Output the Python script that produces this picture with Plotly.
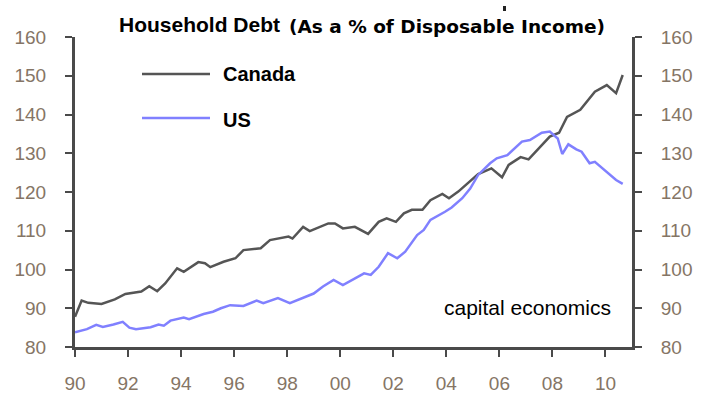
import plotly.graph_objects as go

# ---- data ----
canada_year = [1990.00, 1990.25, 1990.50, 1991.00, 1991.50, 1991.90, 1992.50, 1992.80, 1993.10, 1993.40,
               1993.85, 1994.10, 1994.65, 1994.90, 1995.10, 1995.60, 1996.05, 1996.35, 1997.00, 1997.35,
               1998.05, 1998.20, 1998.60, 1998.85, 1999.55, 1999.80, 2000.10, 2000.55, 2001.05, 2001.45,
               2001.75, 2002.10, 2002.40, 2002.70, 2003.10, 2003.40, 2003.85, 2004.10, 2004.45, 2004.90,
               2005.20, 2005.70, 2006.10, 2006.35, 2006.80, 2007.10, 2007.50, 2007.90, 2008.25, 2008.55,
               2009.05, 2009.60, 2010.05, 2010.40, 2010.65]
canada_debt = [87.8, 92.0, 91.4, 91.1, 92.3, 93.7, 94.3, 95.7, 94.4, 96.4,
               100.3, 99.4, 101.9, 101.6, 100.6, 102.0, 102.9, 105.0, 105.5, 107.6,
               108.5, 108.0, 111.0, 109.9, 111.9, 111.9, 110.6, 111.0, 109.2, 112.3,
               113.2, 112.3, 114.5, 115.4, 115.4, 117.9, 119.5, 118.4, 120.1, 122.7,
               124.6, 126.1, 123.8, 127.0, 129.0, 128.4, 131.3, 134.3, 135.3, 139.4,
               141.2, 145.9, 147.6, 145.5, 150.2]

us_year = [1990.00, 1990.45, 1990.80, 1991.05, 1991.45, 1991.80, 1992.05, 1992.30, 1992.85, 1993.15,
           1993.35, 1993.60, 1994.10, 1994.30, 1994.85, 1995.20, 1995.50, 1995.85, 1996.35, 1996.85,
           1997.10, 1997.65, 1998.10, 1998.60, 1999.00, 1999.35, 1999.75, 2000.10, 2000.55, 2000.90,
           2001.15, 2001.45, 2001.80, 2002.15, 2002.45, 2002.90, 2003.15, 2003.40, 2003.95, 2004.20,
           2004.60, 2004.90, 2005.20, 2005.65, 2005.90, 2006.30, 2006.85, 2007.15, 2007.60, 2007.90,
           2008.20, 2008.37, 2008.60, 2008.90, 2009.10, 2009.40, 2009.60, 2009.95, 2010.40, 2010.65]
us_debt = [83.8, 84.6, 85.7, 85.2, 85.8, 86.5, 85.0, 84.6, 85.1, 85.8,
           85.5, 86.8, 87.6, 87.2, 88.5, 89.1, 90.0, 90.8, 90.6, 92.0,
           91.3, 92.6, 91.3, 92.6, 93.8, 95.6, 97.3, 96.0, 97.8, 99.0,
           98.6, 100.7, 104.2, 102.9, 104.6, 108.9, 110.2, 112.8, 114.9, 116.0,
           118.4, 120.9, 124.4, 127.4, 128.7, 129.5, 133.0, 133.4, 135.3, 135.6,
           133.8, 129.8, 132.3, 131.0, 130.4, 127.4, 127.8, 125.7, 123.1, 122.1]

x_tick_vals = [1990, 1992, 1994, 1996, 1998, 2000, 2002, 2004, 2006, 2008, 2010]
x_tick_text = ["90", "92", "94", "96", "98", "00", "02", "04", "06", "08", "10"]
y_tick_vals = [80, 90, 100, 110, 120, 130, 140, 150, 160]
y_tick_text = ["80", "90", "100", "110", "120", "130", "140", "150", "160"]

# ---- layout geometry ----
W, H = 706, 397
L, R, T, B = 75, 74, 37, 50
PW, PH = W - L - R, H - T - B


def px_x(px):
    return (px - L) / PW


def px_y(py):
    return (H - B - py) / PH


CANADA_COLOR = "#555555"
US_COLOR = "#8080ff"
AXIS_COLOR = "#4a4a4a"
TICK_FONT = dict(family="Liberation Sans", size=19, color="#857565")

fig = go.Figure()
fig.add_trace(go.Scatter(x=canada_year, y=canada_debt, mode="lines", name="Canada",
                         line=dict(color=CANADA_COLOR, width=2.5), showlegend=False))
fig.add_trace(go.Scatter(x=us_year, y=us_debt, mode="lines", name="US",
                         line=dict(color=US_COLOR, width=2.5), showlegend=False))
# invisible trace to anchor the right-hand axis
fig.add_trace(go.Scatter(x=canada_year, y=canada_debt, mode="lines", yaxis="y2",
                         line=dict(width=0), opacity=0, showlegend=False, hoverinfo="skip"))

axis_common = dict(showgrid=False, zeroline=False, showline=True, linecolor=AXIS_COLOR,
                   linewidth=3, ticks="outside", ticklen=7, tickwidth=2, tickcolor=AXIS_COLOR,
                   tickfont=TICK_FONT, automargin=False)

fig.update_layout(
    width=W, height=H,
    margin=dict(l=L, r=R, t=T, b=B),
    paper_bgcolor="white", plot_bgcolor="white",
    xaxis=dict(range=[1990, 2011], tickvals=x_tick_vals, ticktext=x_tick_text,
               ticklabelstandoff=10, **axis_common),
    yaxis=dict(range=[80, 160], tickvals=y_tick_vals, ticktext=y_tick_text,
               ticklabelstandoff=15, side="left", **axis_common),
    yaxis2=dict(range=[80, 160], tickvals=y_tick_vals, ticktext=y_tick_text,
                ticklabelstandoff=15, side="right", overlaying="y", **axis_common),
    showlegend=False,
)

# legend keys
for py, color in [(74, CANADA_COLOR), (118, US_COLOR)]:
    fig.add_shape(type="line", xref="paper", yref="paper",
                  x0=px_x(142), x1=px_x(210), y0=px_y(py), y1=px_y(py),
                  line=dict(color=color, width=2.5))

annotations = [
    dict(text="<b>Canada</b>", x=px_x(221), y=px_y(74), size=20, family="Liberation Sans"),
    dict(text="<b>US</b>", x=px_x(221), y=px_y(120), size=20, family="Liberation Sans"),
    dict(text="<b>Household Debt</b>", x=px_x(117), y=px_y(25), size=21, family="Liberation Sans"),
    dict(text="<b>(As a % of Disposable Income)</b>", x=px_x(287), y=px_y(26.5), size=18.5,
         family="DejaVu Sans"),
    dict(text="capital economics", x=px_x(442), y=px_y(307), size=21, family="Liberation Sans"),
]
for a in annotations:
    fig.add_annotation(text=a["text"], x=a["x"], y=a["y"], xref="paper", yref="paper",
                       xanchor="left", yanchor="middle", showarrow=False,
                       font=dict(family=a["family"], size=a["size"], color="black"))

# small dark speck near the top of the original image
fig.add_shape(type="rect", xref="paper", yref="paper",
              x0=px_x(503), x1=px_x(506), y0=px_y(11), y1=px_y(6),
              fillcolor="#222222", line=dict(width=0))

fig.write_html("out.html")
